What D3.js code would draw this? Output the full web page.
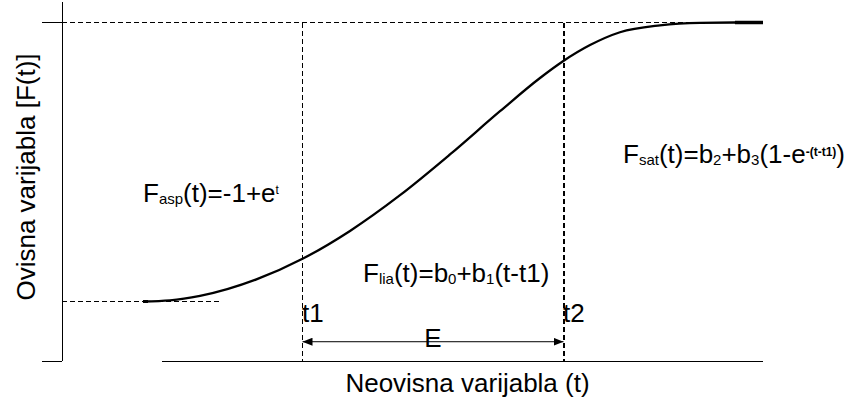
<!DOCTYPE html>
<html>
<head>
<meta charset="utf-8">
<script src="https://cdn.jsdelivr.net/npm/d3@7"></script>
<style>
  body { margin: 0; background: #fff; }
  svg text { font-family: Arial, "Liberation Sans", sans-serif; fill: #000; }
</style>
</head>
<body>
<svg id="chart" width="855" height="405"></svg>
<script>

// curve: t (independent) and F(t) (dependent)
const tVals = [1.167, 1.477, 1.822, 2.477, 3.006, 3.546, 4.121, 4.695, 5.27, 5.73, 5.994, 6.305, 6.649, 7.109, 7.569, 7.971, 8.293];
const fVals = [0.0, 0.004, 0.02, 0.08, 0.154, 0.253, 0.381, 0.527, 0.682, 0.801, 0.861, 0.919, 0.965, 0.99, 0.999, 1.0, 1.0];

// marked points on the t axis
const markers = [{'name': 't1', 't': 3}, {'name': 't2', 't': 6}];
const eLabel = 'E';

// F levels of the horizontal guides
const fLow = 0;
const fHigh = 1;

const axisLabels = {'x': 'Neovisna varijabla (t)', 'y': 'Ovisna varijabla [F(t)]'};

function initChart () {

    const svg = d3.select('#chart');

    const x = d3.scaleLinear().domain([0, 9]).range([41.5, 824.5]);
    const y = d3.scaleLinear().domain([0, 1]).range([301.5, 22.5]);

    // axis extents (in data units)
    const yAxisT = 0.24;
    const xAxisStart = 1.39, xAxisEnd = 8.29;
    const fBottom = -0.2137, fTop = 1.0723;
    const tickT = 0.01;  // left end of the short horizontal ticks
    const lowGuideEnd = 2.07;

    const g = svg.append('g').attr('id', 'plot');

    // axes
    g.append('line')
        .attr('x1', x(yAxisT)).attr('x2', x(yAxisT))
        .attr('y1', y(fTop)).attr('y2', y(fBottom));
    g.append('line')
        .attr('x1', x(tickT)).attr('x2', x(yAxisT))
        .attr('y1', y(fBottom)).attr('y2', y(fBottom));
    g.append('line')
        .attr('x1', x(tickT)).attr('x2', x(yAxisT))
        .attr('y1', y(fHigh)).attr('y2', y(fHigh));
    g.append('line')
        .attr('x1', x(xAxisStart)).attr('x2', x(xAxisEnd))
        .attr('y1', y(fBottom)).attr('y2', y(fBottom));
    g.selectAll('line')
        .style('stroke', '#000')
        .style('stroke-width', 1)
        .style('shape-rendering', 'crispEdges');

    // dashed guides
    const dash = '5,3';
    g.append('line')
        .attr('x1', x(yAxisT)).attr('x2', x(xAxisEnd))
        .attr('y1', y(fHigh)).attr('y2', y(fHigh))
        .style('stroke', '#000').style('stroke-dasharray', dash)
        .style('shape-rendering', 'crispEdges');
    g.append('line')
        .attr('x1', x(yAxisT)).attr('x2', x(lowGuideEnd))
        .attr('y1', y(fLow)).attr('y2', y(fLow))
        .style('stroke', '#000').style('stroke-dasharray', dash)
        .style('shape-rendering', 'crispEdges');

    g.selectAll('.marker')
        .data(markers)
        .enter().append('line')
        .attr('class', 'marker')
        .attr('x1', function(d) {return x(d.t); })
        .attr('x2', function(d) {return x(d.t); })
        .attr('y1', y(fHigh))
        .attr('y2', y(fBottom))
        .style('stroke', '#000')
        .style('stroke-width', function(d, i) {return i ? 2 : 1; })
        .style('stroke-dasharray', dash)
        .style('shape-rendering', 'crispEdges');

    // the curve
    const pts = d3.zip(tVals, fVals);
    const line = d3.line()
        .x(function(d) {return x(d[0]); })
        .y(function(d) {return y(d[1]); })
        .curve(d3.curveMonotoneX);

    g.append('path')
        .attr('d', line(pts))
        .style('fill', 'none')
        .style('stroke', '#000')
        .style('stroke-width', 2.3);

    // thicker stubs at both ends of the curve
    g.append('line')
        .attr('x1', x(7.97)).attr('x2', x(tVals[tVals.length - 1]))
        .attr('y1', y(fHigh)).attr('y2', y(fHigh))
        .style('stroke', '#000').style('stroke-width', 3.5);
    g.append('line')
        .attr('x1', x(tVals[0])).attr('x2', x(tVals[0]) + 5)
        .attr('y1', y(fLow)).attr('y2', y(fLow))
        .style('stroke', '#000').style('stroke-width', 3);

    // E double arrow between t1 and t2
    const defs = svg.append('defs');
    defs.append('marker')
        .attr('id', 'arrow')
        .attr('viewBox', '0 0 10 8')
        .attr('refX', 10).attr('refY', 4)
        .attr('markerWidth', 10).attr('markerHeight', 8)
        .attr('markerUnits', 'userSpaceOnUse')
        .attr('orient', 'auto-start-reverse')
        .append('path')
        .attr('d', 'M0,0L10,4L0,8Z')
        .style('fill', '#000');

    const fArrow = -0.1442;
    g.append('text')
        .attr('x', (x(markers[0].t) + x(markers[1].t)) / 2)
        .attr('y', y(fArrow) + 5.5)
        .attr('text-anchor', 'middle')
        .style('font-size', '26px')
        .text(eLabel);

    g.append('line')
        .attr('x1', x(markers[0].t)).attr('x2', x(markers[1].t))
        .attr('y1', y(fArrow)).attr('y2', y(fArrow))
        .attr('marker-start', 'url(#arrow)')
        .attr('marker-end', 'url(#arrow)')
        .style('stroke', '#000')
        .style('stroke-width', 1);

    // t1 / t2 labels
    g.selectAll('.mlabel')
        .data(markers)
        .enter().append('text')
        .attr('class', 'mlabel')
        .attr('x', function(d) {return x(d.t) - 0.5; })
        .attr('y', 321.7)
        .style('font-size', '26px')
        .text(function(d) {return d.name; });

    // formulas
    function formula (px, py, parts) {
        var t = g.append('text')
            .attr('x', px).attr('y', py)
            .style('font-size', '26px');
        parts.forEach(function(p) {
            t.append('tspan')
                .attr('dy', p.dy || 0)
                .style('font-size', (p.size || 26) + 'px')
                .style('font-weight', p.bold ? 'bold' : 'normal')
                .text(p.s);
        });
    }

    formula(143, 201.7, [
        {'s': 'F'}, {'s': 'asp', 'size': 15, 'dy': 2},
        {'s': '(t)=-1+e', 'dy': -2},
        {'s': 't', 'size': 12, 'dy': -8}
    ]);

    formula(363, 281.7, [
        {'s': 'F'}, {'s': 'lia', 'size': 15, 'dy': 2},
        {'s': '(t)=b', 'dy': -2}, {'s': '0', 'size': 15, 'dy': 2},
        {'s': '+b', 'dy': -2}, {'s': '1', 'size': 15, 'dy': 2},
        {'s': '(t-t1)', 'dy': -2}
    ]);

    formula(623, 163.3, [
        {'s': 'F'}, {'s': 'sat', 'size': 15, 'dy': 2},
        {'s': '(t)=b', 'dy': -2}, {'s': '2', 'size': 15, 'dy': 2},
        {'s': '+b', 'dy': -2}, {'s': '3', 'size': 15, 'dy': 2},
        {'s': '(1-e', 'dy': -2},
        {'s': '-(t-t1)', 'size': 12, 'bold': true, 'dy': -7},
        {'s': ')', 'dy': 7}
    ]);

    // axis titles
    svg.append('text')
        .attr('x', 467.5).attr('y', 392)
        .attr('text-anchor', 'middle')
        .style('font-size', '26px')
        .text(axisLabels.x);

    svg.append('text')
        .attr('transform', 'translate(35,177) rotate(-90)')
        .attr('text-anchor', 'middle')
        .style('font-size', '26px')
        .text(axisLabels.y);
}

initChart();
</script>
</body>
</html>
